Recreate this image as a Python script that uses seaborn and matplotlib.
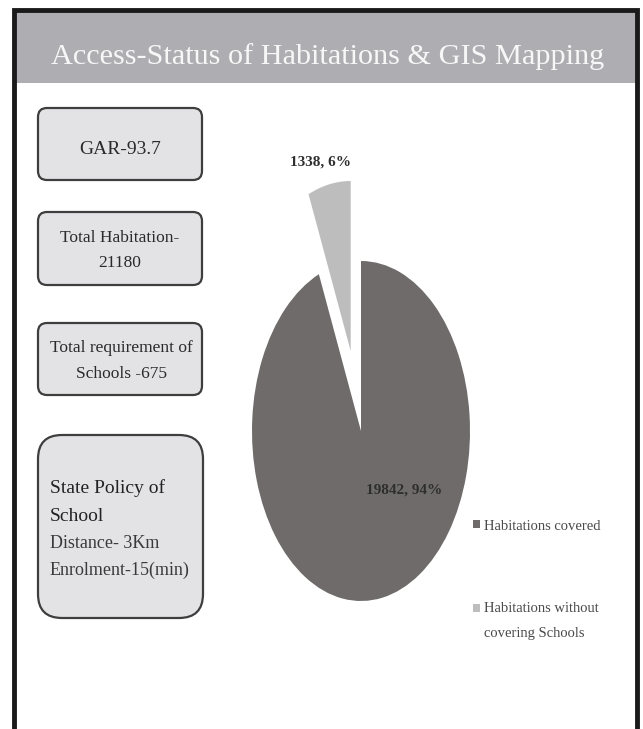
import matplotlib
matplotlib.use("Agg")
import matplotlib.pyplot as plt
from matplotlib.patches import FancyBboxPatch, Rectangle
from matplotlib.legend_handler import HandlerPatch
import seaborn as sns

# Data
TITLE = "Access-Status of Habitations & GIS Mapping"
CATEGORIES = ["Habitations covered", "Habitations without\ncovering Schools"]
VALUES = [19842, 1338]
EXPLODE = [0, 0.48]
INFO_BOXES = ["GAR-93.7", "Total Habitation-\n21180", "Total requirement of\nSchools -675"]
POLICY_HEAD = "State Policy of\nSchool"
POLICY_BODY = "Distance- 3Km\nEnrolment-15(min)"

sns.set_theme(style="white")
plt.rcParams["font.family"] = ["Liberation Serif", "DejaVu Serif"]
colors = sns.color_palette(["#6f6b6b", "#bdbdbd"])

W, H = 643, 729
fig = plt.figure(figsize=(W / 100, H / 100), dpi=100)
fig.patch.set_facecolor("white")

# background layer in pixel coordinates
bg = fig.add_axes([0, 0, 1, 1])
bg.set_xlim(0, W)
bg.set_ylim(H, 0)
bg.axis("off")

# title band + frame
bg.add_patch(Rectangle((14, 10), 622, 73, facecolor="#aeadb2", edgecolor="none"))
bg.plot([14, 14, 637, 637], [H, 10, 10, H], color="#1a1a1a", lw=3.5,
        solid_joinstyle="miter")
bg.text(328, 57, TITLE, color="#f7f7f7", fontsize=21.8, ha="center", va="center")

# info boxes on the left
box_specs = [(38, 108, 164, 72, 9), (38, 212, 164, 73, 9), (38, 323, 164, 72, 9),
             (38, 435, 165, 183, 24)]
for x, y, w, h, r in box_specs:
    bg.add_patch(FancyBboxPatch((x, y), w, h,
                                boxstyle=f"round,pad=0,rounding_size={r}",
                                facecolor="#e3e3e6", edgecolor="#3e3e3e", lw=1.6))

bg.text(120, 149, INFO_BOXES[0], fontsize=14, ha="center", va="center", color="#2a2a2a")
bg.text(120, 250, INFO_BOXES[1], fontsize=12.5, ha="center", va="center",
        color="#2a2a2a", linespacing=1.75)
bg.text(121, 361, INFO_BOXES[2], fontsize=12.5, ha="center", va="center",
        color="#2a2a2a", linespacing=1.85)
bg.text(50, 502, POLICY_HEAD, fontsize=14, ha="left", va="center",
        color="#222222", linespacing=1.8)
bg.text(50, 557, POLICY_BODY, fontsize=13, ha="left", va="center",
        color="#3a3a3a", linespacing=1.75)

# pie (elliptical, like the stretched slide)
cx, cy, rx, ry, lim = 361, 431, 109, 170, 1.6
ax = fig.add_axes([(cx - lim * rx) / W, (H - cy - lim * ry) / H,
                   2 * lim * rx / W, 2 * lim * ry / H])
wedges, _ = ax.pie(VALUES, explode=EXPLODE, colors=colors, startangle=90,
                   counterclock=False, wedgeprops=dict(edgecolor="none"))
ax.set_aspect("auto")
ax.set_xlim(-lim, lim)
ax.set_ylim(-lim, lim)
ax.axis("off")

total = sum(VALUES)
labels = [f"{v}, {round(100 * v / total)}%" for v in VALUES]
label_pos = [(0.40, -0.35), (-0.37, 1.58)]
for txt, (lx, ly) in zip(labels, label_pos):
    ax.text(lx, ly, txt, fontsize=11, fontweight="bold", ha="center", va="center",
            color="#2e2e2e")


def top_square(shift):
    # legend marker pushed up to sit next to the first text line
    def make(legend, orig_handle, xdescent, ydescent, width, height, fontsize):
        return Rectangle((-xdescent, -ydescent + shift), width, height)
    return make


# legend, one entry per slice
leg_pos = [(466, 526), (466, 621)]
shifts = [0, 9.5]
for wedge, cat, (lx, ly), sh in zip(wedges, CATEGORIES, leg_pos, shifts):
    leg = fig.legend([wedge], [cat], loc="center left",
                     bbox_to_anchor=(lx / W, 1 - ly / H), frameon=False,
                     fontsize=10.5, handlelength=0.45, handleheight=0.45,
                     handletextpad=0.25, borderpad=0, labelcolor="#4a4a4a",
                     handler_map={wedge: HandlerPatch(patch_func=top_square(sh))})
    for t in leg.get_texts():
        t.set_linespacing(2.2)

fig.savefig("out.png", dpi=100)
